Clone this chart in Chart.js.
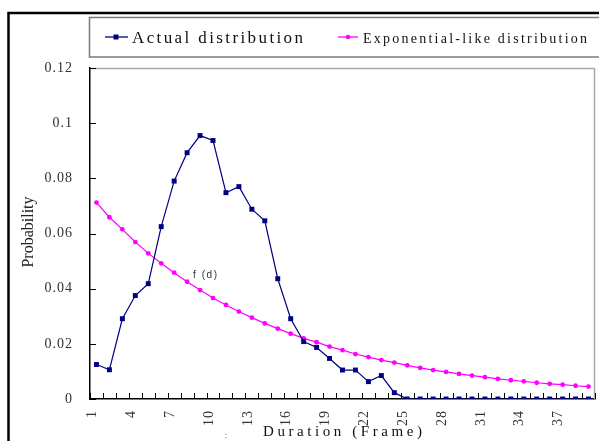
<!DOCTYPE html>
<html>
<head>
<meta charset="utf-8">
<script src="https://cdn.jsdelivr.net/npm/chart.js@4/dist/chart.umd.min.js"></script>
<style>
  html, body { margin: 0; padding: 0; background: #fff; }
  #wrap { width: 599px; height: 441px; }
</style>
</head>
<body>
<div id="wrap"><canvas id="durationChart"></canvas></div>
<script>
// duration in frames (x categories)
const durations = [1, 2, 3, 4, 5, 6, 7, 8, 9, 10, 11, 12, 13, 14, 15, 16, 17, 18, 19, 20,
  21, 22, 23, 24, 25, 26, 27, 28, 29, 30, 31, 32, 33, 34, 35, 36, 37, 38, 39];

// measured probability of each duration
const actualDist = [0.0125, 0.0106, 0.0291, 0.0375, 0.0418, 0.0625, 0.0790, 0.0893, 0.0955, 0.0937,
  0.0748, 0.0770, 0.0688, 0.0646, 0.0436, 0.0291, 0.0208, 0.0187, 0.0147, 0.0105,
  0.0105, 0.0063, 0.0085, 0.0023, 0, 0, 0, 0, 0, 0,
  0, 0, 0, 0, 0, 0, 0, 0, 0];

// the fitted f(d) curve
const expDist = [0.0712, 0.0659, 0.0615, 0.0569, 0.0528, 0.0492, 0.0458, 0.0425, 0.0395, 0.0366,
  0.0341, 0.0317, 0.0295, 0.0274, 0.0255, 0.0237, 0.0220, 0.0206, 0.0190, 0.0177,
  0.0163, 0.0152, 0.0141, 0.0132, 0.0122, 0.0113, 0.0105, 0.0098, 0.0091, 0.0085,
  0.0079, 0.0073, 0.0068, 0.0064, 0.0059, 0.0055, 0.0052, 0.0048, 0.0045];

const yTickLabels = ['0', '0.02', '0.04', '0.06', '0.08', '0.1', '0.12'];

const serif = "'Liberation Serif', 'Times New Roman', serif";

// draw text stretched with letter spacing so it fills a given width
function spacedText(ctx, text, x, y, width) {
  ctx.letterSpacing = '0px';
  const natural = ctx.measureText(text).width;
  const gap = (width - natural) / (text.length - 1);
  ctx.letterSpacing = gap + 'px';
  ctx.textAlign = 'left';
  ctx.fillText(text, x, y);
  ctx.letterSpacing = '0px';
}

// everything around the plot: frame, legend box, inward ticks, titles
const decorations = {
  id: 'decorations',
  beforeDraw(chart) {
    chart.ctx.letterSpacing = '1px';
  },
  afterDraw(chart) {
    const ctx = chart.ctx;
    const area = chart.chartArea;
    const xs = chart.scales.x;
    const ys = chart.scales.y;
    ctx.save();
    ctx.letterSpacing = '0px';

    // outer black frame (only top/left visible)
    ctx.strokeStyle = '#000';
    ctx.lineWidth = 2.5;
    ctx.beginPath();
    ctx.moveTo(8.5, 441);
    ctx.lineTo(8.5, 13);
    ctx.lineTo(599, 13);
    ctx.stroke();

    // legend box
    ctx.strokeStyle = '#7a7a7a';
    ctx.lineWidth = 1.5;
    ctx.strokeRect(89.5, 17.5, 530, 39.5);

    // legend markers
    ctx.strokeStyle = '#000080';
    ctx.lineWidth = 1.3;
    ctx.beginPath();
    ctx.moveTo(105, 37); ctx.lineTo(128, 37);
    ctx.stroke();
    ctx.fillStyle = '#000080';
    ctx.fillRect(113.5, 34.5, 5, 5);

    ctx.strokeStyle = '#ff00ff';
    ctx.beginPath();
    ctx.moveTo(338, 37); ctx.lineTo(358, 37);
    ctx.stroke();
    ctx.fillStyle = '#ff00ff';
    ctx.beginPath();
    ctx.arc(348, 37, 2.3, 0, Math.PI * 2);
    ctx.fill();

    // legend texts
    ctx.fillStyle = '#111';
    ctx.textBaseline = 'alphabetic';
    ctx.font = '17px ' + serif;
    spacedText(ctx, 'Actual distribution', 132, 43, 171);
    ctx.font = '14px ' + serif;
    spacedText(ctx, 'Exponential-like distribution', 363, 43, 224);

    // plot area top / right border
    ctx.strokeStyle = '#a8a8a8';
    ctx.lineWidth = 1.5;
    ctx.beginPath();
    ctx.moveTo(area.left, area.top + 0.5);
    ctx.lineTo(area.right - 0.5, area.top + 0.5);
    ctx.lineTo(area.right - 0.5, area.bottom);
    ctx.stroke();

    // inward tick marks
    ctx.strokeStyle = '#000';
    ctx.lineWidth = 1;
    ctx.beginPath();
    const step = (xs.right - xs.left) / durations.length;
    for (let i = 0; i <= durations.length; i++) {
      const px = Math.round(xs.left + i * step) + 0.5;
      ctx.moveTo(px, area.bottom);
      ctx.lineTo(px, area.bottom - 6);
    }
    ys.ticks.forEach((t, i) => {
      const py = Math.round(ys.getPixelForTick(i)) + 0.5;
      ctx.moveTo(area.left, py);
      ctx.lineTo(area.left + 6, py);
    });
    ctx.stroke();

    // axis titles
    ctx.fillStyle = '#111';
    ctx.font = '15px ' + serif;
    spacedText(ctx, 'Duration (Frame)', 263, 436, 159);

    ctx.save();
    ctx.translate(33, 232);
    ctx.rotate(-Math.PI / 2);
    ctx.font = '16px ' + serif;
    ctx.textAlign = 'center';
    ctx.fillStyle = '#222';
    ctx.fillText('Probability', 0, 0);
    ctx.restore();

    // curve annotation
    ctx.fillStyle = '#333';
    ctx.font = "10px 'Liberation Sans', Arial, sans-serif";
    spacedText(ctx, 'f (d)', 193, 278, 24);

    // stray mark under the axis
    ctx.fillStyle = '#444';
    ctx.font = '9px ' + serif;
    ctx.textAlign = 'center';
    ctx.fillText(':', 226, 438);

    ctx.restore();
  }
};

const ctx = document.getElementById('durationChart').getContext('2d');
new Chart(ctx, {
  type: 'line',
  data: {
    labels: durations,
    datasets: [
      {
        label: 'Actual distribution',
        data: actualDist,
        borderColor: '#000080',
        backgroundColor: '#000080',
        borderWidth: 1.2,
        pointStyle: 'rect',
        pointRadius: 3.5,
        pointBorderWidth: 0,
        tension: 0,
        fill: false
      },
      {
        label: 'Exponential-like distribution',
        data: expDist,
        borderColor: '#ff00ff',
        backgroundColor: '#ff00ff',
        borderWidth: 1.2,
        pointStyle: 'circle',
        pointRadius: 2.4,
        pointBorderWidth: 0,
        tension: 0,
        fill: false
      }
    ]
  },
  options: {
    responsive: true,
    maintainAspectRatio: false,
    animation: false,
    layout: { padding: { top: 68, right: 1, left: 0, bottom: 0 } },
    plugins: {
      legend: { display: false },
      tooltip: { enabled: false }
    },
    scales: {
      x: {
        type: 'category',
        offset: true,
        grid: { display: false },
        border: { display: true, color: '#000', width: 1.5 },
        afterFit: s => { s.height = 42; s.paddingLeft = 0; s.paddingRight = 0; },
        ticks: {
          autoSkip: false,
          minRotation: 90,
          maxRotation: 90,
          padding: 3,
          labelOffset: -4,
          color: '#333',
          font: { family: serif, size: 14 },
          callback: function (value, index) {
            return index % 3 === 0 ? String(durations[index]) : '';
          }
        }
      },
      y: {
        min: 0,
        max: 0.12,
        grid: { display: false, drawTicks: false },
        border: { display: true, color: '#000', width: 1.5 },
        afterFit: s => { s.width = 90; },
        ticks: {
          stepSize: 0.02,
          padding: 17,
          color: '#333',
          font: { family: serif, size: 14 },
          callback: (value, index) => yTickLabels[index]
        }
      }
    }
  },
  plugins: [decorations]
});
</script>
</body>
</html>
